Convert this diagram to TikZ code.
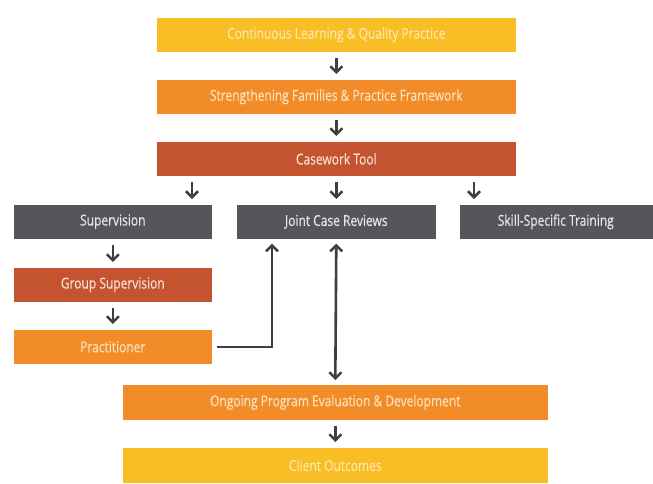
\documentclass[tikz,border=0pt]{standalone}
\usepackage{fontspec}
\setmainfont{Open Sans}[FakeStretch=0.8,FakeBold=0.4]
\usetikzlibrary{arrows.meta,shadows}
\definecolor{cyel}{HTML}{F9BD25}
\definecolor{cora}{HTML}{F28C28}
\definecolor{cred}{HTML}{C4532F}
\definecolor{cgry}{HTML}{54565A}
\definecolor{carr}{HTML}{3E3F43}
\definecolor{tyel}{HTML}{FCE7A6}
\definecolor{tora}{HTML}{FCE0BC}
\definecolor{tred}{HTML}{F7DDD0}
\definecolor{tgry}{HTML}{E6E6E6}
\tikzset{
  box/.style={draw=white, line width=1.6pt, inner sep=0pt, anchor=north west,
    font=\fontsize{15}{17}\selectfont,
    drop shadow={shadow xshift=1pt, shadow yshift=-1.5pt, opacity=0.2, fill=black!60}},
  yel/.style={box, fill=cyel, text=tyel},
  ora/.style={box, fill=cora, text=tora},
  red/.style={box, fill=cred, text=tred},
  gry/.style={box, fill=cgry, text=tgry},
  mytip/.tip={Straight Barb[length=6pt,width=12pt,line width=2.5pt]},
  arr/.style={draw=carr, line width=2.6pt, -mytip},
  darr/.style={draw=carr, line width=2.6pt, mytip-mytip}
}
\begin{document}
\begin{tikzpicture}[x=1pt,y=-1pt]
\useasboundingbox (0,0) rectangle (653,483);
\node[yel, minimum width=361pt, minimum height=36pt] (cl) at (155,16) {Continuous Learning \& Quality Practice};
\node[ora, minimum width=361pt, minimum height=36pt] (sf) at (155,78) {Strengthening Families \& Practice Framework};
\node[red, minimum width=361pt, minimum height=36pt] (ct) at (155,140) {Casework Tool};
\node[gry, minimum width=200pt, minimum height=36pt] (sv) at (12,203) {Supervision};
\node[gry, minimum width=201pt, minimum height=36pt] (jc) at (235,203) {Joint Case Reviews};
\node[gry, minimum width=200pt, minimum height=36pt] (st) at (458,203) {\hspace*{-6pt}Skill-Specific Training};
\node[red, minimum width=200pt, minimum height=36pt] (gs) at (12,266) {Group Supervision};
\node[ora, minimum width=200pt, minimum height=36pt] (pr) at (12,328) {Practitioner};
\node[ora, minimum width=427pt, minimum height=37pt] (op) at (121,383) {Ongoing Program Evaluation \& Development};
\node[yel, minimum width=427pt, minimum height=37pt] (co) at (121,446) {Client Outcomes};
\coordinate (jcl) at (272,0);
\coordinate (a1) at (192,0);
\coordinate (a3) at (474,0);
\draw[arr] ([yshift=-4pt]cl.south) -- ([yshift=4pt]sf.north);
\draw[arr] ([yshift=-4pt]sf.south) -- ([yshift=4pt]ct.north);
\draw[arr] ([yshift=-4pt]ct.south -| a1) -- ([yshift=4pt]sv.north -| a1);
\draw[arr] ([yshift=-4pt]ct.south) -- ([yshift=4pt]jc.north);
\draw[arr] ([yshift=-4pt]ct.south -| a3) -- ([yshift=4pt]st.north -| a3);
\draw[arr] ([yshift=-4pt]sv.south) -- ([yshift=4pt]gs.north);
\draw[arr] ([yshift=-4pt]gs.south) -- ([yshift=4pt]pr.north);
\draw[arr] ([xshift=3pt]pr.east) -| ([yshift=-3pt]jc.south -| jcl);
\draw[darr] ([yshift=-3pt]jc.south) -- ([yshift=3pt]op.north);
\draw[arr] ([yshift=-4pt]op.south) -- ([yshift=4pt]co.north);
\end{tikzpicture}
\end{document}
